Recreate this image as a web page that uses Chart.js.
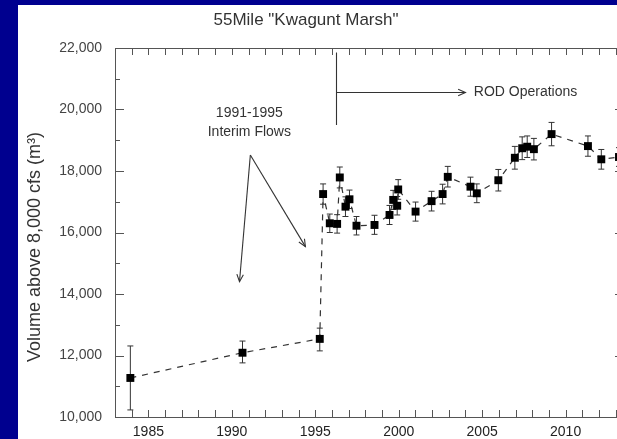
<!DOCTYPE html>
<html>
<head>
<meta charset="utf-8">
<title>55Mile "Kwagunt Marsh"</title>
<script src="https://cdn.jsdelivr.net/npm/chart.js@4.4.1/dist/chart.umd.min.js"></script>
<style>
  html, body { margin: 0; padding: 0; background: #00008f; overflow: hidden; width: 617px; height: 439px; }
  #panel { position: absolute; left: 18px; top: 5px; width: 640px; height: 434px; background: #fff; }
</style>
</head>
<body>
<div id="panel"><canvas id="marshChart"></canvas></div>
<script>
// survey dates (decimal years) and volume above 8,000 cfs
const surveyYears = [1983.92, 1990.64, 1995.27, 1995.47, 1995.87, 1996.31, 1996.47, 1996.81, 1997.05, 1997.47,
                     1998.55, 1999.45, 1999.67, 1999.91, 1999.97, 2001.01, 2001.97, 2002.63, 2002.94, 2004.30,
                     2004.68, 2005.97, 2006.96, 2007.40, 2007.70, 2008.10, 2009.16, 2011.34, 2012.14, 2013.2];
const volumes = [11270, 12090, 12540, 17250, 16300, 16280, 17790, 16840, 17080, 16220,
                 16245, 16570, 17060, 16870, 17400, 16680, 17020, 17250, 17810, 17490,
                 17275, 17700, 18430, 18740, 18790, 18710, 19200, 18810, 18380, 18455];
// error bar ends
const errHigh = [12310, 12470, 12890, 17580, 16600, 16580, 18130, 17160, 17380, 16520,
                 16560, 16880, 17370, 17170, 17720, 16990, 17340, 17570, 18150, 17800,
                 17580, 18050, 18800, 19110, 19140, 19060, 19580, 19140, 18700, 18760];
const errLow = [10230, 11760, 12150, 16920, 16000, 15980, 17450, 16520, 16780, 15920,
                15940, 16260, 16750, 16570, 17080, 16370, 16700, 16930, 17480, 17180,
                16970, 17350, 18060, 18370, 18440, 18360, 18820, 18480, 18060, 18150];

const xTicks = [1985, 1990, 1995, 2000, 2005, 2010];
const yTicks = [10000, 12000, 14000, 16000, 18000, 20000, 22000];

const FONT = "'Liberation Sans', Arial, sans-serif";
const INK = "#333";

// annotation anchors in data units (year, volume)
const notes = {
    interimText: [1991.05, 19886, 19268],
    interimApex: [1991.11, 18520],
    interimTipA: [1990.46, 14400],
    interimTipB: [1994.41, 15540],
    rodLine: [1996.27, 21850, 19500],
    rodArrowY: 20570,
    rodTip: 2004.0,
    rodText: 2004.5
};

function arrowHead(ctx, x0, y0, x1, y1) {
    const ang = Math.atan2(y1 - y0, x1 - x0);
    const len = 8, spread = 0.42;
    ctx.beginPath();
    ctx.moveTo(x1 - len * Math.cos(ang - spread), y1 - len * Math.sin(ang - spread));
    ctx.lineTo(x1, y1);
    ctx.lineTo(x1 - len * Math.cos(ang + spread), y1 - len * Math.sin(ang + spread));
    ctx.stroke();
}

const figurePlugin = {
    id: "figure",
    beforeDatasetsDraw(chart) {
        // error bars under the squares
        const ctx = chart.ctx, xs = chart.scales.x, ys = chart.scales.y;
        ctx.save();
        ctx.strokeStyle = INK;
        ctx.lineWidth = 1;
        surveyYears.forEach((yr, i) => {
            const x = xs.getPixelForValue(yr);
            const top = ys.getPixelForValue(errHigh[i]);
            const bot = ys.getPixelForValue(errLow[i]);
            ctx.beginPath();
            ctx.moveTo(x, top); ctx.lineTo(x, bot);
            ctx.moveTo(x - 3, top); ctx.lineTo(x + 3, top);
            ctx.moveTo(x - 3, bot); ctx.lineTo(x + 3, bot);
            ctx.stroke();
        });
        ctx.restore();
    },
    afterDraw(chart) {
        const ctx = chart.ctx, xs = chart.scales.x, ys = chart.scales.y;
        const a = chart.chartArea;
        ctx.save();
        // frame
        ctx.strokeStyle = "#555";
        ctx.lineWidth = 1;
        ctx.strokeRect(a.left + 0.5, a.top + 0.5, a.right - a.left, a.bottom - a.top);
        // inward ticks, every year on x, every 1000 on y
        ctx.beginPath();
        for (let yr = Math.ceil(xs.min); yr <= xs.max; yr++) {
            const x = Math.round(xs.getPixelForValue(yr)) + 0.5;
            ctx.moveTo(x, a.bottom); ctx.lineTo(x, a.bottom - 7);
            ctx.moveTo(x, a.top); ctx.lineTo(x, a.top + 7);
        }
        for (let v = ys.min; v <= ys.max; v += 1000) {
            const y = Math.round(ys.getPixelForValue(v)) + 0.5;
            const len = v % 2000 === 0 ? 9 : 5;
            ctx.moveTo(a.left, y); ctx.lineTo(a.left + len, y);
            ctx.moveTo(a.right, y); ctx.lineTo(a.right - len, y);
        }
        ctx.stroke();

        // chart title
        ctx.fillStyle = INK;
        ctx.textAlign = "center";
        ctx.textBaseline = "middle";
        ctx.font = "17px " + FONT;
        ctx.fillText('55Mile "Kwagunt Marsh"', 288, 15);

        // y axis title
        ctx.font = "18px " + FONT;
        ctx.save();
        ctx.translate(17, 242);
        ctx.rotate(-Math.PI / 2);
        ctx.fillText("Volume above 8,000 cfs (m\u00B3)", 0, 0);
        ctx.restore();

        // 1991-1995 interim flows
        ctx.font = "14px " + FONT;
        const tx = xs.getPixelForValue(notes.interimText[0]);
        ctx.fillText("1991-1995", tx, ys.getPixelForValue(notes.interimText[1]));
        ctx.fillText("Interim Flows", tx, ys.getPixelForValue(notes.interimText[2]));
        ctx.strokeStyle = INK;
        ctx.lineWidth = 1.1;
        const ax = xs.getPixelForValue(notes.interimApex[0]), ay = ys.getPixelForValue(notes.interimApex[1]);
        [notes.interimTipA, notes.interimTipB].forEach(t => {
            const bx = xs.getPixelForValue(t[0]), by = ys.getPixelForValue(t[1]);
            ctx.beginPath(); ctx.moveTo(ax, ay); ctx.lineTo(bx, by); ctx.stroke();
            arrowHead(ctx, ax, ay, bx, by);
        });

        // ROD operations
        const rx = Math.round(xs.getPixelForValue(notes.rodLine[0])) + 0.5;
        const ry = Math.round(ys.getPixelForValue(notes.rodArrowY)) + 0.5;
        const tipX = xs.getPixelForValue(notes.rodTip);
        ctx.beginPath();
        ctx.moveTo(rx, ys.getPixelForValue(notes.rodLine[1]));
        ctx.lineTo(rx, ys.getPixelForValue(notes.rodLine[2]));
        ctx.moveTo(rx, ry); ctx.lineTo(tipX, ry);
        ctx.stroke();
        arrowHead(ctx, rx, ry, tipX, ry);
        ctx.textAlign = "left";
        ctx.fillText("ROD Operations", xs.getPixelForValue(notes.rodText), ry);
        ctx.restore();
    }
};

const ctx = document.getElementById("marshChart").getContext("2d");
new Chart(ctx, {
    type: "line",
    data: {
        datasets: [{
            data: surveyYears.map((yr, i) => ({ x: yr, y: volumes[i] })),
            borderColor: INK,
            borderWidth: 1.2,
            borderDash: [6, 6],
            pointStyle: "rect",
            pointRadius: 5.6,
            pointBackgroundColor: "#000",
            pointBorderColor: "#000",
            pointBorderWidth: 0,
            tension: 0
        }]
    },
    options: {
        responsive: true,
        maintainAspectRatio: false,
        animation: false,
        layout: { padding: { left: 0, right: 34, top: 43, bottom: 0 } },
        plugins: {
            legend: { display: false },
            tooltip: { enabled: false },
            title: { display: false }
        },
        scales: {
            x: {
                type: "linear",
                min: 1983,
                max: 2013.5,
                afterBuildTicks: s => { s.ticks = xTicks.map(v => ({ value: v })); },
                afterFit: s => { s.height = 22; },
                grid: { display: false, drawTicks: false },
                border: { display: false },
                ticks: {
                    callback: v => String(v),
                    color: "#222",
                    font: { family: FONT, size: 14 },
                    padding: 7,
                    maxRotation: 0,
                    autoSkip: false
                }
            },
            y: {
                min: 10000,
                max: 22000,
                afterBuildTicks: s => { s.ticks = yTicks.map(v => ({ value: v })); },
                afterFit: s => { s.width = 97; },
                grid: { display: false, drawTicks: false },
                border: { display: false },
                ticks: {
                    callback: v => v.toLocaleString("en-US"),
                    color: "#444",
                    font: { family: FONT, size: 14 },
                    padding: 13
                }
            }
        }
    },
    plugins: [figurePlugin]
});
</script>
</body>
</html>
